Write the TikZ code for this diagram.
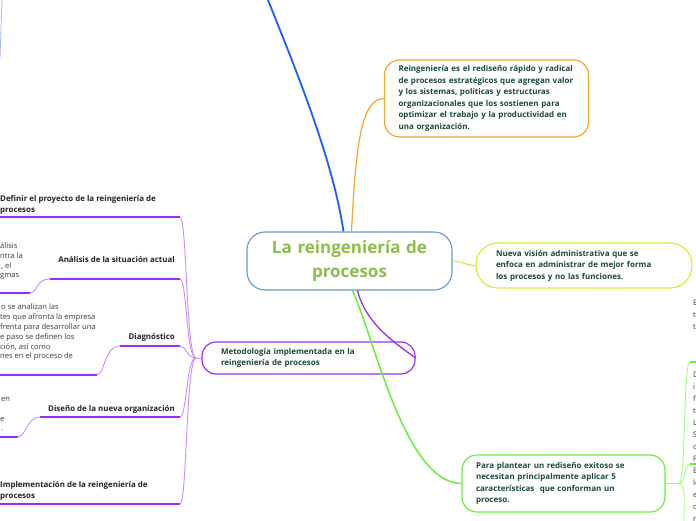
\documentclass[tikz,border=0pt]{standalone}
\usepackage{fontspec}
\setmainfont{Open Sans}
\definecolor{cblue}{HTML}{5B9BD5}
\definecolor{cgreen}{HTML}{8BBE4A}
\definecolor{dtext}{HTML}{1C4A34}
\definecolor{bline}{HTML}{1F5CFF}
\definecolor{lblue}{HTML}{9DB8FF}
\definecolor{oline}{HTML}{F9A52A}
\definecolor{yline}{HTML}{D6EE3A}
\definecolor{pline}{HTML}{9B2FF0}
\definecolor{plight}{HTML}{C98CFF}
\definecolor{gline}{HTML}{66F03A}
\definecolor{glight}{HTML}{9CFF80}
\definecolor{ltext}{HTML}{222222}
\definecolor{ctext}{HTML}{3A3A3A}
\tikzset{
  mbox/.style={draw, fill=white, line width=1.2pt, align=left, inner ysep=0pt,
    font=\fontsize{8}{11.5}\selectfont\bfseries, text=dtext},
  central/.style={draw=cblue, fill=white, line width=1.1pt, rounded corners=18pt,
    align=center, inner sep=0pt, font=\fontsize{17}{24}\selectfont\bfseries, text=cgreen},
  lab/.style={inner sep=0pt, align=left, font=\fontsize{7.9}{11.5}\selectfont\bfseries, text=ltext},
  frag/.style={inner sep=0pt, font=\fontsize{7.6}{10}\selectfont, text=ctext},
  pthick/.style={draw=pline, line width=1.6pt},
  pthin/.style={draw=plight, line width=0.9pt},
  gthick/.style={draw=gline, line width=1.6pt},
  gthin/.style={draw=glight, line width=0.9pt}
}
\begin{document}
\begin{tikzpicture}[x=1pt,y=-1pt]
\useasboundingbox (0,0) rectangle (696,520);
\clip (0,0) rectangle (696,520);

% free ends
\coordinate (btop) at (268,0);
\coordinate (lb1) at (2,0);
\coordinate (lb2) at (0,58);
\draw[lblue, line width=0.8pt] (lb1) -- (lb2);

% boxes
\node[central, minimum width=205pt, minimum height=58pt, text width=190pt] (c) at (349.5,261) {La reingeniería de\\procesos};
\node[mbox, draw=oline, rounded corners=15pt, minimum width=204pt, minimum height=77pt, text width=176pt, inner xsep=14pt] (o) at (486.5,98.5)
 {Reingeniería es el rediseño rápido y radical\\de procesos estratégicos que agregan valor\\y los sistemas, políticas y estructuras\\organizacionales que los sostienen para\\optimizar el trabajo y la productividad en\\una organización.};
\node[mbox, draw=yline, rounded corners=22pt, minimum width=216pt, minimum height=45pt, text width=176pt, inner xsep=20pt] (y) at (584,265.5)
 {Nueva visión administrativa que se\\enfoca en administrar de mejor forma\\los procesos y no las funciones.};
\node[mbox, draw=pline, rounded corners=14pt, minimum width=213pt, minimum height=32pt, text width=175pt, inner xsep=19pt] (p) at (308.5,358)
 {Metodología implementada en la\\reingeniería de procesos};
\node[mbox, draw=gline, rounded corners=15pt, minimum width=203pt, minimum height=57pt, text width=175pt, inner xsep=14pt] (g) at (563.5,483.5)
 {Para plantear un rediseño exitoso se\\necesitan principalmente aplicar 5\\características\ \ que conforman un\\proceso.};

% main connectors
\draw[bline, line width=1.8pt] ([xshift=-6pt]c.north) .. controls (333,160) and (296,70) .. (btop);
\draw[oline, line width=1.2pt] ([xshift=2pt]c.north) .. controls (356,140) and (362,99) .. (o.west);
\draw[yline, line width=1.2pt] (c.east) .. controls (462,261) and (466,265.5) .. (y.west);
\draw[pline, line width=1.3pt] ([xshift=8pt]c.south) .. controls (366,325) and (398,345) .. (p.east);
\draw[gline, line width=1.5pt] ([xshift=3pt]c.south) .. controls (375,340) and (405,483) .. (g.west);

% left side
\coordinate (J) at (196,358);
\draw[pthin] (p.west) -- (J);
\foreach \yy in {217,279,346,417,504}{
  \draw[pthin] (180,\yy) .. controls (187,\yy) and (186,358) .. (J);
}
\coordinate (a1) at (0,217);   \coordinate (a2) at (180,217);
\coordinate (b1) at (50,279);  \coordinate (b2) at (180,279);
\coordinate (d1) at (120,346); \coordinate (d2) at (180,346);
\coordinate (e1) at (40,417);  \coordinate (e2) at (180,417);
\coordinate (f1) at (0,504);   \coordinate (f2) at (180,504);
\draw[pthick] (a1) -- (a2);
\draw[pthick] (b1) -- (b2);
\draw[pthick] (d1) -- (d2);
\draw[pthick] (e1) -- (e2);
\draw[pthick] (f1) -- (f2);
% children
\coordinate (bc0) at (0,293);  \coordinate (bc1) at (30,293);
\coordinate (dc0) at (0,375);  \coordinate (dc1) at (97,375);
\coordinate (ec0) at (0,437);  \coordinate (ec1) at (18,437);
\draw[pthick] (bc0) -- (bc1);
\draw[pthick] (dc0) -- (dc1);
\draw[pthick] (ec0) -- (ec1);
\draw[pthin] (bc1) .. controls (38,292) and (36,279) .. (b1);
\draw[pthin] (dc1) .. controls (105,374) and (104,346) .. (d1);
\draw[pthin] (ec1) .. controls (26,436) and (27,417) .. (e1);

\node[lab, anchor=west] (t1) at (0,205) {Definir el proyecto de la reingeniería de\\procesos};
\node[lab, anchor=east] (t2) at (175,260) {Análisis de la situación actual};
\node[lab, anchor=east] (t3) at (175,337) {Diagnóstico};
\node[lab, anchor=east] (t4) at (175,409) {Diseño de la nueva organización};
\node[lab, anchor=west] (t5) at (0,491) {Implementación de la reingeniería de\\procesos};

% fragments left
\node[frag, anchor=west] (fa1) at (0,246) {álisis};
\node[frag, anchor=west] (fa2) at (0,256) {ntra la};
\node[frag, anchor=west] (fa3) at (1,266) {, el};
\node[frag, anchor=west] (fa4) at (0,276) {gmas};
\node[frag, anchor=west] (fd1) at (1,307) {o se analizan las};
\node[frag, anchor=west] (fd2) at (0,317) {tes que afronta la empresa};
\node[frag, anchor=west] (fd3) at (0,327) {frenta para desarrollar una};
\node[frag, anchor=west] (fd4) at (0,337) {e paso se definen los};
\node[frag, anchor=west] (fd5) at (0,347) {ción, así como};
\node[frag, anchor=west] (fd6) at (0,357) {nes en el proceso de};
\node[frag, anchor=west] (fe1) at (1,399) {en};
\node[frag, anchor=west] (fe2) at (0,419) {e};
\node[frag, anchor=west] (fe3) at (1,430) {.};

% right side
\coordinate (RJ) at (679,483.5);
\coordinate (r1) at (690,362); \coordinate (r1e) at (697,362);
\coordinate (r2) at (690,464); \coordinate (r2e) at (697,464);
\coordinate (r3) at (684,521);
\draw[gthin] (g.east) -- (RJ);
\draw[gthin] (RJ) .. controls (686,483) and (683,362) .. (r1);
\draw[gthin] (RJ) .. controls (686,483) and (684,464) .. (r2);
\draw[gthin] (RJ) .. controls (686,484) and (684,500) .. (r3);
\draw[gthick] (r1) -- (r1e);
\draw[gthick] (r2) -- (r2e);

\node[frag, anchor=west] at (693,303) {E};
\node[frag, anchor=west] at (693,315) {t};
\node[frag, anchor=west] at (693,327) {t};
\node[frag, anchor=west] at (693,375) {D};
\node[frag, anchor=west] at (693,387) {i};
\node[frag, anchor=west] at (693,399) {f};
\node[frag, anchor=west] at (693,411) {t};
\node[frag, anchor=west] at (693,423) {L};
\node[frag, anchor=west] at (693,435) {S};
\node[frag, anchor=west] at (693,447) {c};
\node[frag, anchor=west] at (693,459) {P};
\node[frag, anchor=west] at (693,471) {E};
\node[frag, anchor=west] at (693,483) {le};
\node[frag, anchor=west] at (693,495) {e};
\node[frag, anchor=west] at (693,507) {c};
\node[frag, anchor=west] at (693,519) {r};
\end{tikzpicture}
\end{document}
